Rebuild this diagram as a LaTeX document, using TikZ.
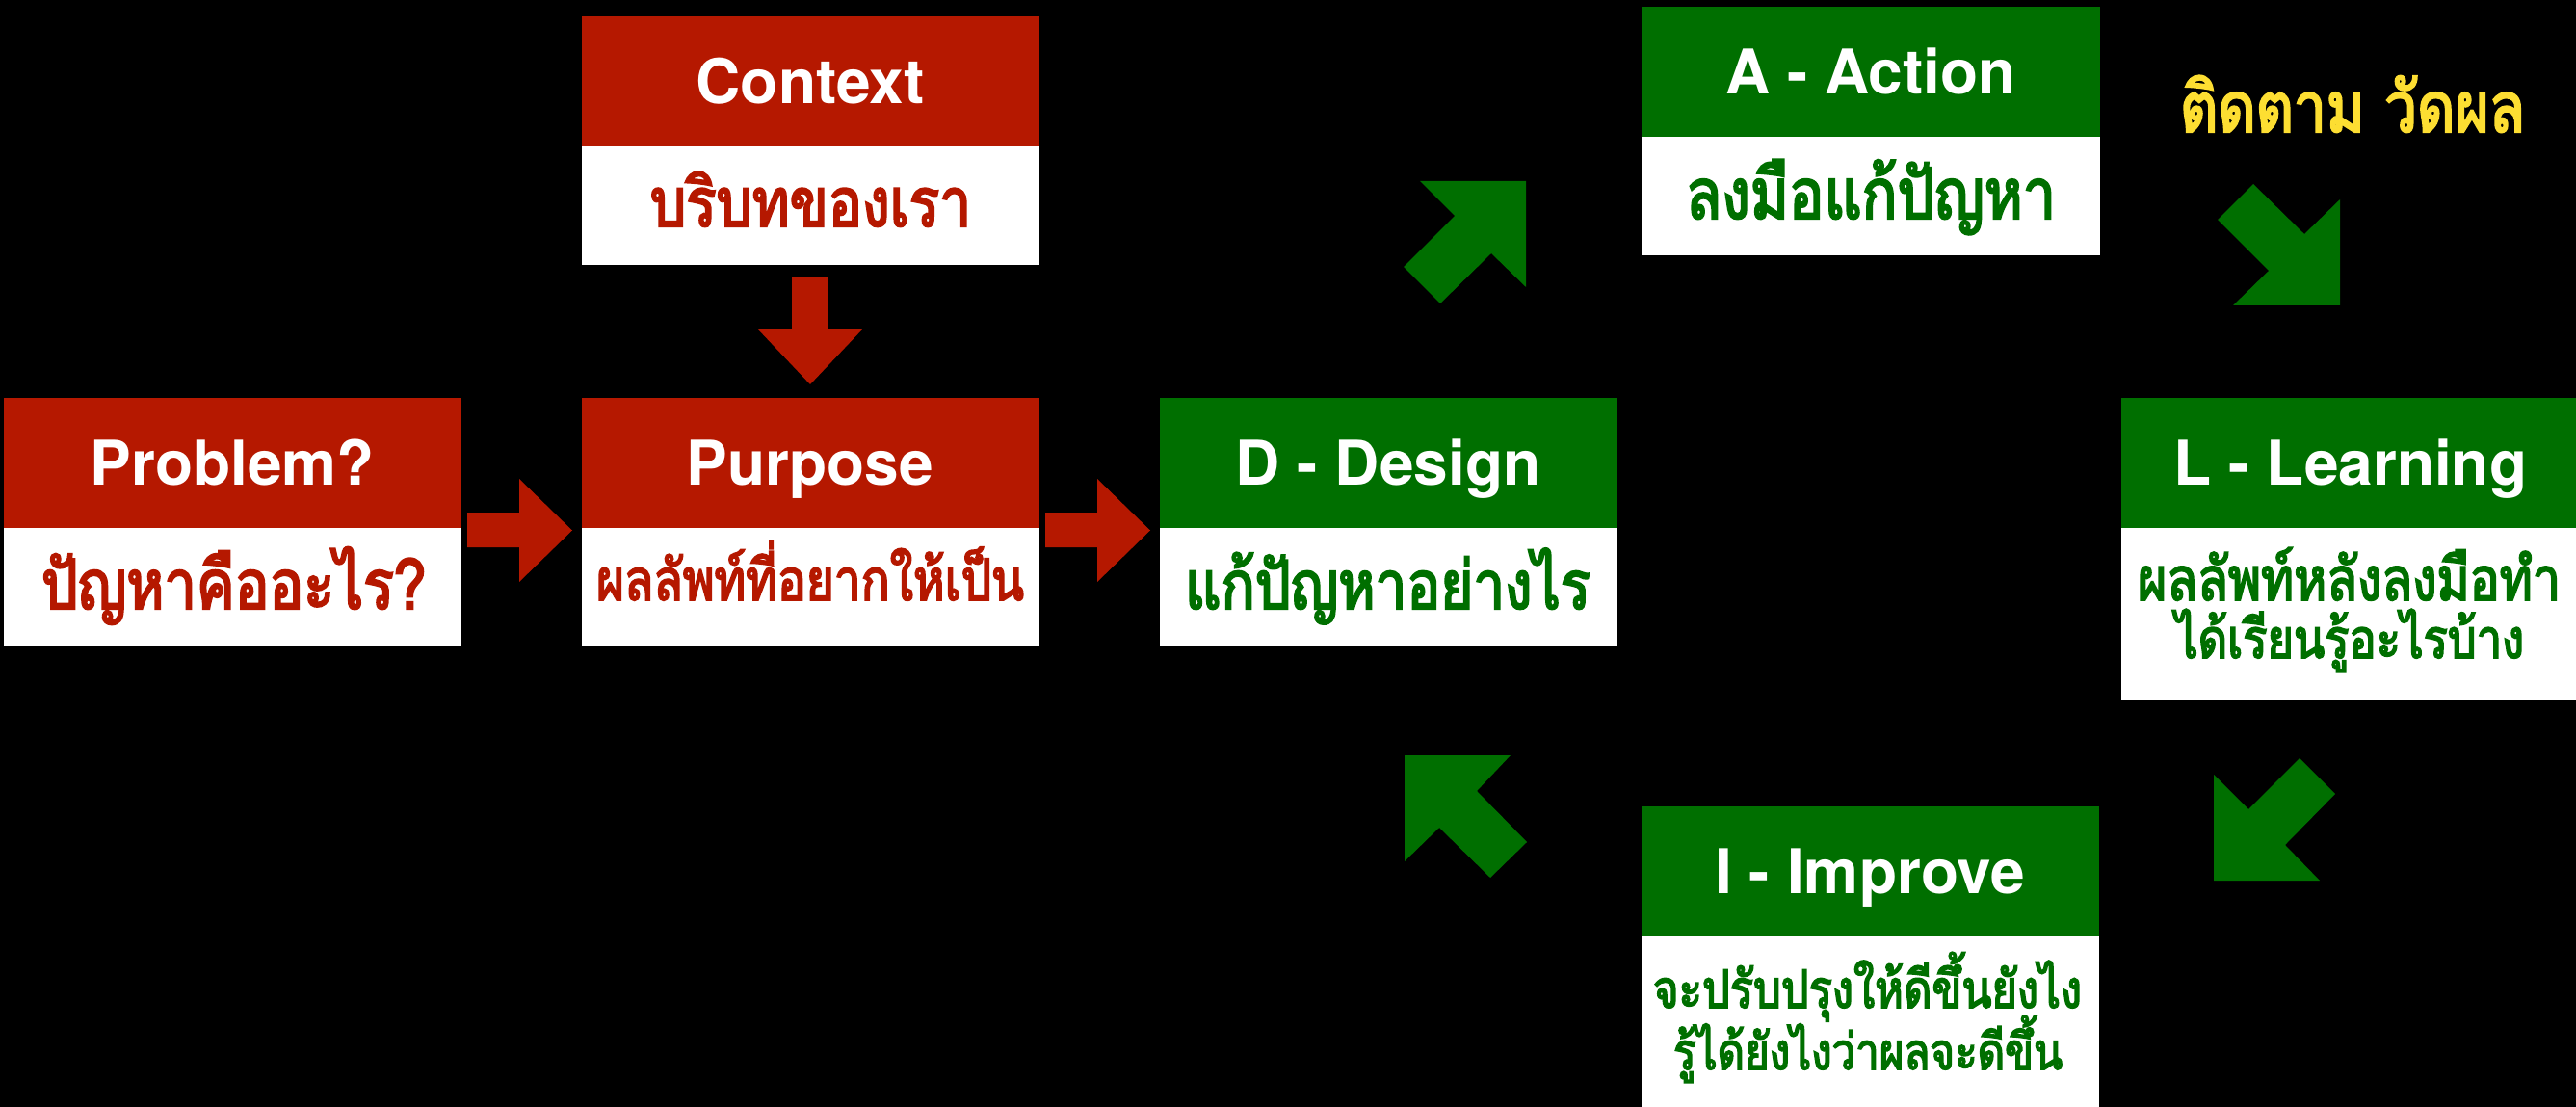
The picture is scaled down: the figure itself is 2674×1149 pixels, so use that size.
\documentclass[tikz,border=0pt]{standalone}
\usepackage{fontspec}
\usepackage{graphicx}
\setmainfont{TeX Gyre Heros}
\newfontfamily\thaifont[Script=Thai,AutoFakeBold=3,FakeStretch=0.83]{Loma}
\definecolor{hred}{RGB}{181,24,0}
\definecolor{hgreen}{RGB}{0,111,0}
\definecolor{hyellow}{RGB}{253,222,50}
\newcommand\thtext[2]{\resizebox{#1pt}{!}{\thaifont\bfseries #2}}
\tikzset{
  hdr/.style={rectangle, inner sep=0pt, minimum width=237.5pt, minimum height=67.5pt,
    text height=23pt, text depth=0pt, text=white, font=\fontsize{32}{38}\selectfont\bfseries},
  bodybox/.style={rectangle, fill=white, inner sep=0pt, minimum width=237.5pt},
  thai/.style={anchor=base, inner sep=0pt},
  redarrow/.style={fill=hred},
  greenarrow/.style={fill=hgreen}
}
\begin{document}
\begin{tikzpicture}[x=0.5pt,y=-0.5pt]
\useasboundingbox (0,0) rectangle (2674,1149);
\fill[black] (0,0) rectangle (2674,1149);

% Problem
\node[hdr, fill=hred] (probH) at (241,480.5) {Problem?};
\node[bodybox, minimum height=61.5pt] (probB) at (241,609.5) {};
\node[thai, text=hred] (probT) at (242.5,632) {\thtext{199.5}{ปัญหาคืออะไร?}};

% Context
\node[hdr, fill=hred] (ctxH) at (841,84.5) {Context};
\node[bodybox, minimum height=61.5pt] (ctxB) at (841,213.5) {};
\node[thai, text=hred] (ctxT) at (841.5,235) {\thtext{166.5}{บริบทของเรา}};

% Purpose
\node[hdr, fill=hred] (purH) at (841,480.5) {Purpose};
\node[bodybox, minimum height=61.5pt] (purB) at (841,609.5) {};
\node[thai, text=hred] (purT) at (841,623) {\thtext{222}{ผลลัพท์ที่อยากให้เป็น}};

% Design
\node[hdr, fill=hgreen] (desH) at (1441,480.5) {D - Design};
\node[bodybox, minimum height=61.5pt] (desB) at (1441,609.5) {};
\node[thai, text=hgreen] (desT) at (1440.5,632) {\thtext{210.5}{แก้ปัญหาอย่างไร}};

% Action
\node[hdr, fill=hgreen, minimum width=238pt] (actH) at (1942,74.5) {A - Action};
\node[bodybox, minimum width=238pt, minimum height=61.5pt] (actB) at (1942,203.5) {};
\node[thai, text=hgreen] (actT) at (1942,227) {\thtext{192}{ลงมือแก้ปัญหา}};

% Learning
\node[hdr, fill=hgreen, minimum width=238pt] (lrnH) at (2440,480.5) {L - Learning};
\node[bodybox, minimum width=238pt, minimum height=89.5pt] (lrnB) at (2440,637.5) {};
\node[thai, text=hgreen] (lrnT1) at (2438.5,623) {\thtext{219.5}{ผลลัพท์หลังลงมือทำ}};
\node[thai, text=hgreen] (lrnT2) at (2439,683) {\thtext{181}{ได้เรียนรู้อะไรบ้าง}};

% Improve
\node[hdr, fill=hgreen] (impH) at (1941,904.5) {I - Improve};
\node[bodybox, minimum height=90pt] (impB) at (1941,1062) {};
\node[thai, text=hgreen] (impT1) at (1938.5,1046) {\thtext{222.5}{จะปรับปรุงให้ดีขึ้นยังไง}};
\node[thai, text=hgreen] (impT2) at (1939,1110) {\thtext{202}{รู้ได้ยังไงว่าผลจะดีขึ้น}};

% yellow label
\node[thai, text=hyellow] (track) at (2442,137) {\thtext{179}{ติดตาม วัดผล}};

% red block arrows
\fill[redarrow] (485,532) -- (539,532) -- (539,497) -- (594,550.5) -- (539,604) -- (539,568) -- (485,568) -- cycle;
\fill[redarrow] (1085,532) -- (1139,532) -- (1139,497) -- (1194,550.5) -- (1139,604) -- (1139,568) -- (1085,568) -- cycle;
\fill[redarrow] (822,288) -- (859,288) -- (859,342) -- (895,342) -- (841,399) -- (787,342) -- (822,342) -- cycle;

% green block arrows
\fill[greenarrow] (1474,188) -- (1584,188) -- (1584,298) -- (1548,263) -- (1495,315) -- (1457,277) -- (1510,224) -- cycle;
\fill[greenarrow] (2339,191) -- (2302,228) -- (2355,281) -- (2318,317) -- (2429,317) -- (2429,207) -- (2392,243) -- cycle;
\fill[greenarrow] (2298,804) -- (2334,840) -- (2387,787) -- (2424,824) -- (2372,877) -- (2408,914) -- (2298,914) -- cycle;
\fill[greenarrow] (1458,784) -- (1568,784) -- (1533,821) -- (1585,874) -- (1547,911) -- (1494,859) -- (1458,894) -- cycle;
\end{tikzpicture}
\end{document}
